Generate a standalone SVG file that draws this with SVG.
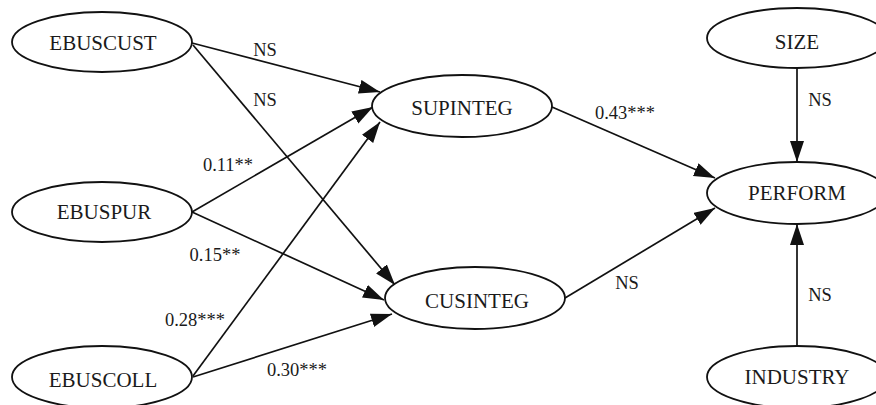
<svg xmlns="http://www.w3.org/2000/svg" width="876" height="405" viewBox="0 0 876 405">
  <style>
    .node ellipse { fill: #ffffff; stroke: #111111; stroke-width: 1.8; }
    .node text { font-family: "Liberation Serif", "Times New Roman", serif; font-size: 21px; fill: #1a1a1a; text-anchor: middle; }
    .edges line { stroke: #111111; stroke-width: 1.7; marker-end: url(#arrow); }
    .lbl { font-family: "Liberation Serif", "Times New Roman", serif; font-size: 18.5px; fill: #1a1a1a; text-anchor: middle; }
  </style>
  <defs>
    <marker id="arrow" markerUnits="userSpaceOnUse" markerWidth="22" markerHeight="16" refX="21" refY="7" orient="auto">
      <path d="M0,0 L21,7 L0,14 z" fill="#111111"/>
    </marker>
  </defs>
  <rect width="876" height="405" fill="#ffffff"/>

  <!-- path connectors -->
  <g id="connectors" class="edges">
    <line x1="192" y1="43" x2="380" y2="92"/>
    <line x1="193" y1="45" x2="395" y2="285"/>
    <line x1="192" y1="212" x2="373" y2="107"/>
    <line x1="192" y1="212" x2="384" y2="300"/>
    <line x1="193" y1="376" x2="380" y2="122"/>
    <line x1="193" y1="377" x2="392" y2="314"/>
    <line x1="552" y1="107" x2="715" y2="178"/>
    <line x1="565" y1="298" x2="715" y2="208"/>
    <line x1="797" y1="69" x2="797" y2="162"/>
    <line x1="797" y1="346" x2="797" y2="224"/>
  </g>

  <!-- path coefficients -->
  <g id="labels">
    <text class="lbl" x="265" y="56">NS</text>
    <text class="lbl" x="265" y="106">NS</text>
    <text class="lbl" x="228" y="171">0.11**</text>
    <text class="lbl" x="215" y="261">0.15**</text>
    <text class="lbl" x="195" y="326">0.28***</text>
    <text class="lbl" x="297" y="376">0.30***</text>
    <text class="lbl" x="625" y="119">0.43***</text>
    <text class="lbl" x="820" y="106">NS</text>
    <text class="lbl" x="627" y="289">NS</text>
    <text class="lbl" x="820" y="301">NS</text>
  </g>

  <!-- constructs -->
  <g id="EBUSCUST" class="node">
    <ellipse cx="102" cy="42" rx="90" ry="30"/>
    <text x="103" y="50">EBUSCUST</text>
  </g>
  <g id="EBUSPUR" class="node">
    <ellipse cx="102" cy="212" rx="90" ry="30"/>
    <text x="104" y="219">EBUSPUR</text>
  </g>
  <g id="EBUSCOLL" class="node">
    <ellipse cx="102" cy="377" rx="90" ry="31"/>
    <text x="103" y="387">EBUSCOLL</text>
  </g>
  <g id="SUPINTEG" class="node">
    <ellipse cx="462" cy="106" rx="90" ry="31"/>
    <text x="462" y="115">SUPINTEG</text>
  </g>
  <g id="CUSINTEG" class="node">
    <ellipse cx="475" cy="298" rx="90" ry="31"/>
    <text x="477" y="308">CUSINTEG</text>
  </g>
  <g id="SIZE" class="node">
    <ellipse cx="797" cy="38" rx="90" ry="30"/>
    <text x="797" y="49">SIZE</text>
  </g>
  <g id="PERFORM" class="node">
    <ellipse cx="797" cy="193" rx="90" ry="31"/>
    <text x="797" y="200">PERFORM</text>
  </g>
  <g id="INDUSTRY" class="node">
    <ellipse cx="797" cy="377" rx="90" ry="31"/>
    <text x="797" y="384">INDUSTRY</text>
  </g>
</svg>
